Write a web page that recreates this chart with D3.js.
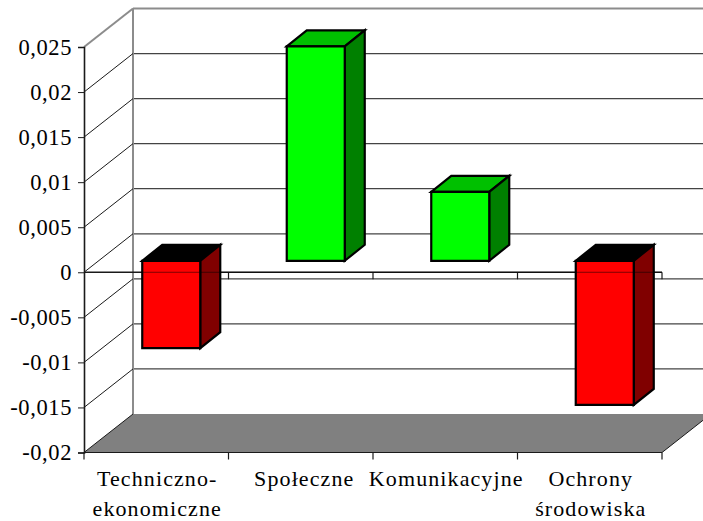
<!DOCTYPE html>
<meta charset="utf-8">
<script src="https://d3js.org/d3.v7.min.js"></script>
<style>
  body { margin: 0; background: #fff; }
  text { font-family: "Liberation Serif", serif; fill: #000; }
</style>
<body>
<svg id="chart" width="703" height="521" style="display:block"></svg>
<script>
  // data
  var categories = ["Techniczno-\nekonomiczne", "Społeczne", "Komunikacyjne", "Ochrony\nśrodowiska"];
  var values = [-0.0097, 0.0238, 0.00765, -0.016];
  var yTicks = [-0.02, -0.015, -0.01, -0.005, 0, 0.005, 0.01, 0.015, 0.02, 0.025];
  var yLabels = ["-0,02", "-0,015", "-0,01", "-0,005", "0", "0,005", "0,01", "0,015", "0,02", "0,025"];

  var svg = d3.select("#chart");

  var y = d3.scaleLinear().domain([-0.02, 0.025]).range([452.5, 47]);
  var x = d3.scaleBand().domain(categories).range([84, 662]);

  // oblique offset of the 3d box
  var wallDx = 49, wallDy = -38.5;
  var barDepth = { dx: 20, dy: -16 };
  var barFront = { dx: 15, dy: -11.5 };
  var barWidth = 58;
  var right = 760;
  var ink = "#1a1a1a";

  function pts(a) { return a.map(function(p) { return p.join(","); }).join(" "); }

  // floor
  svg.append("polygon")
    .attr("fill", "#808080")
    .attr("points", pts([[84, y(-0.02)], [84 + wallDx, y(-0.02) + wallDy], [662 + wallDx, y(-0.02) + wallDy], [662, y(-0.02)]]));

  // back wall grid lines
  svg.selectAll(".back").data(yTicks.slice(1)).enter().append("line")
    .attr("x1", 84 + wallDx).attr("x2", right)
    .attr("y1", function(d) { return y(d) + wallDy; })
    .attr("y2", function(d) { return y(d) + wallDy; })
    .attr("stroke", function(d) { return d === 0.025 ? "#8c8c8c" : "#444"; })
    .attr("stroke-width", function(d) { return d === 0.025 ? 2 : 1.2; });

  // back wall left edge
  svg.append("line")
    .attr("x1", 84 + wallDx).attr("x2", 84 + wallDx)
    .attr("y1", y(0.025) + wallDy).attr("y2", y(-0.02) + wallDy)
    .attr("stroke", "#8c8c8c").attr("stroke-width", 2);

  // side wall diagonals
  svg.selectAll(".diag").data(yTicks.slice(1)).enter().append("line")
    .attr("x1", 84).attr("x2", 84 + wallDx)
    .attr("y1", function(d) { return y(d); })
    .attr("y2", function(d) { return y(d) + wallDy; })
    .attr("stroke", function(d) { return d === 0.025 ? "#8c8c8c" : ink; })
    .attr("stroke-width", function(d) { return d === 0.025 ? 2 : 1; });

  // front edges of the floor
  svg.append("line").attr("x1", 84).attr("x2", 662).attr("y1", y(-0.02)).attr("y2", y(-0.02))
    .attr("stroke", ink).attr("stroke-width", 1.2);
  svg.append("line").attr("x1", 84).attr("x2", 84 + wallDx).attr("y1", y(-0.02)).attr("y2", y(-0.02) + wallDy)
    .attr("stroke", ink).attr("stroke-width", 1);
  svg.append("line").attr("x1", 662).attr("x2", 662 + wallDx).attr("y1", y(-0.02)).attr("y2", y(-0.02) + wallDy)
    .attr("stroke", ink).attr("stroke-width", 1);

  // zero plane line, behind the bars
  var boundaries = categories.map(function(c) { return x(c); }).concat([662]);
  svg.append("line").attr("x1", 84).attr("x2", 662).attr("y1", y(0)).attr("y2", y(0))
    .attr("stroke", ink).attr("stroke-width", 1.4);
  svg.selectAll(".zt").data(boundaries.slice(1)).enter().append("line")
    .attr("x1", function(d) { return d; }).attr("x2", function(d) { return d; })
    .attr("y1", y(0)).attr("y2", y(0) + 7)
    .attr("stroke", ink).attr("stroke-width", 1.2);

  // bars
  var bars = svg.selectAll(".bar").data(values).enter().append("g").attr("class", "bar");
  bars.each(function(d, i) {
    var g = d3.select(this);
    var cx = x(categories[i]) + x.bandwidth() / 2 + barFront.dx;
    var x0 = cx - barWidth / 2, x1 = cx + barWidth / 2;
    var top = Math.min(y(d), y(0)) + barFront.dy;
    var bot = Math.max(y(d), y(0)) + barFront.dy;
    var dx = barDepth.dx, dy = barDepth.dy;
    var pos = d > 0;
    function face(points, fill) {
      g.append("polygon").attr("points", pts(points)).attr("fill", fill)
        .attr("stroke", "#000").attr("stroke-width", 2.2);
    }
    face([[x0, top], [x0 + dx, top + dy], [x1 + dx, top + dy], [x1, top]], pos ? "#00c000" : "#000");
    face([[x1, top], [x1 + dx, top + dy], [x1 + dx, bot + dy], [x1, bot]], pos ? "#008000" : "#800000");
    face([[x0, top], [x1, top], [x1, bot], [x0, bot]], pos ? "#00ff00" : "#ff0000");
  });

  // zero line shows faintly through the negative bars
  svg.append("line").attr("x1", 141).attr("x2", 662).attr("y1", y(0)).attr("y2", y(0))
    .attr("stroke", "#000").attr("stroke-width", 1).attr("opacity", 0.5);

  // y axis
  var yAxis = d3.axisLeft(y)
    .tickValues(yTicks)
    .tickSize(6)
    .tickPadding(6)
    .tickFormat(function(d, i) { return yLabels[i]; });
  var yg = svg.append("g").attr("transform", "translate(84,0)").call(yAxis);
  yg.select(".domain").attr("stroke", ink).attr("stroke-width", 1.6);
  yg.selectAll(".tick line").attr("stroke", ink).attr("stroke-width", 1);
  yg.selectAll("text")
    .style("font-family", '"Liberation Serif", serif')
    .style("font-size", "22.5px")
    .style("letter-spacing", "0.6px")
    .attr("fill", "#000");

  // x ticks on the floor edge
  svg.selectAll(".xt").data(boundaries).enter().append("line")
    .attr("x1", function(d) { return d; }).attr("x2", function(d) { return d; })
    .attr("y1", y(-0.02)).attr("y2", y(-0.02) + 7)
    .attr("stroke", ink).attr("stroke-width", 1.2);

  // category labels
  var labelNudge = [1, 3.5, 1, 1];
  categories.forEach(function(c, i) {
    var t = svg.append("text")
      .attr("text-anchor", "middle")
      .style("font-size", "22px")
      .style("letter-spacing", "1.1px");
    c.split("\n").forEach(function(line, j) {
      t.append("tspan")
        .attr("x", x(c) + x.bandwidth() / 2 + labelNudge[i])
        .attr("y", 485.5 + j * 30.5)
        .text(line);
    });
  });
</script>
</body>
